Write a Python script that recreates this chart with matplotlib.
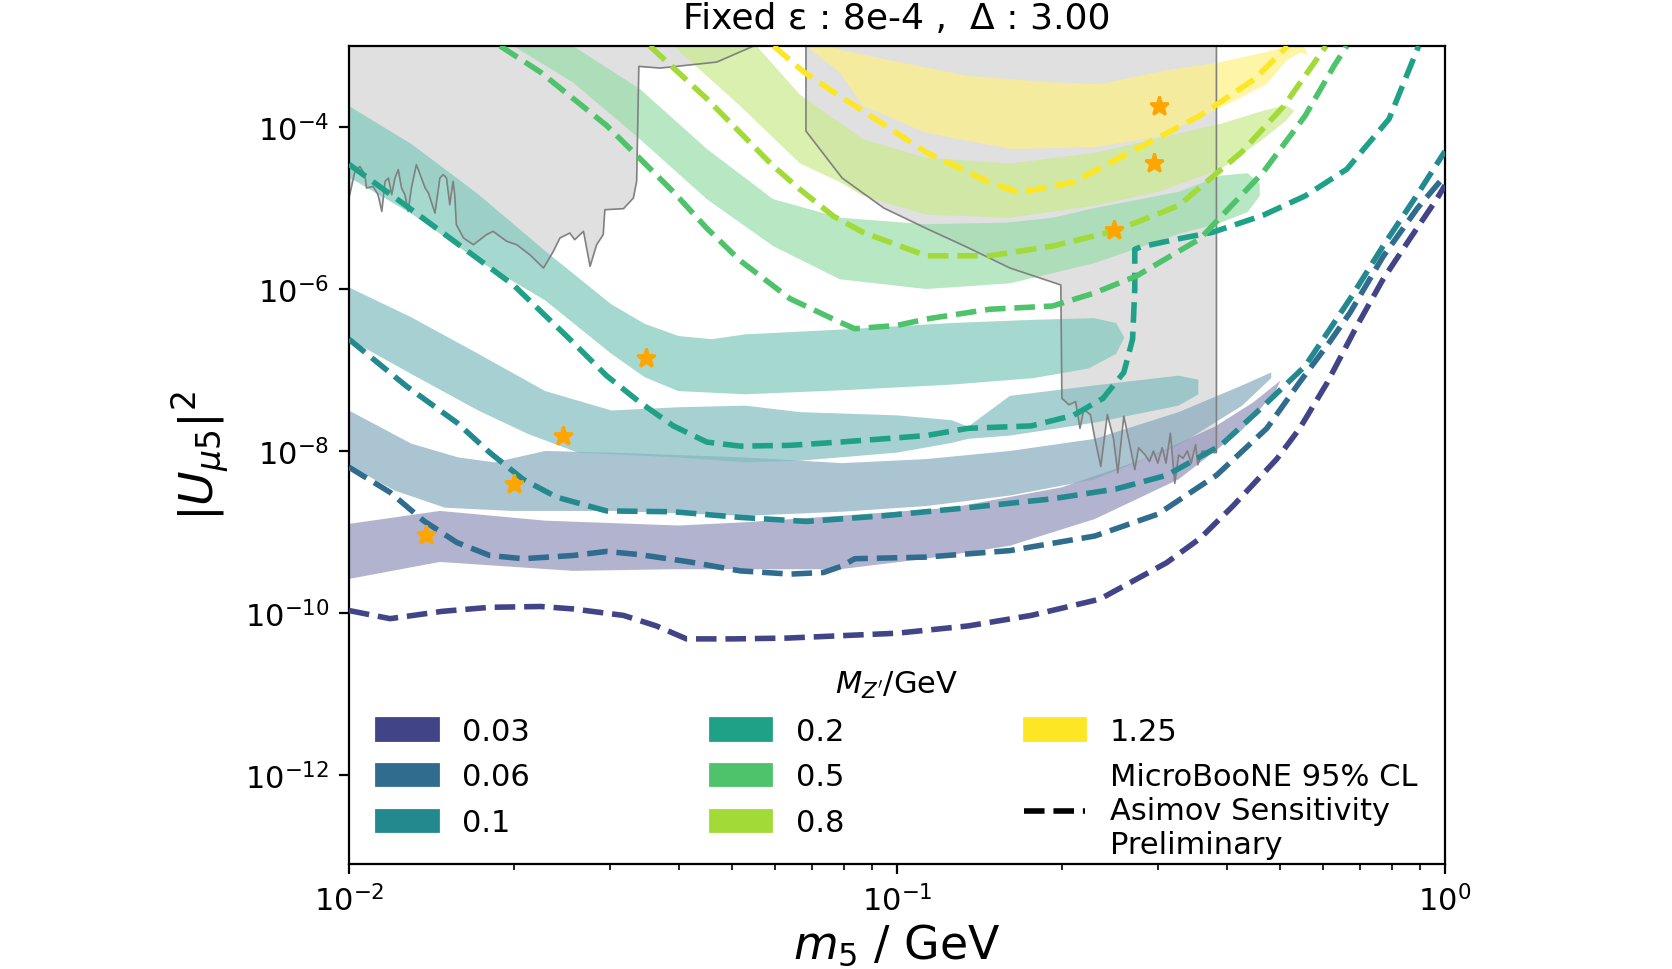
import numpy as np
import matplotlib
matplotlib.use("Agg")
import matplotlib.pyplot as plt
from matplotlib.patches import Patch
from matplotlib.lines import Line2D
from matplotlib.ticker import NullLocator

# ---------------- data (log10 values) ----------------
mass_labels = ["0.03", "0.06", "0.1", "0.2", "0.5", "0.8", "1.25"]
viridis_pos = [0.2, 0.35, 0.47, 0.57, 0.72, 0.86, 1.0]

# dashed sensitivity curves: log10(m5), log10(|U|^2)
d003_x = [-2.0, -1.925, -1.83, -1.743, -1.65, -1.591, -1.499, -1.439, -1.384, -1.3, -1.2, -1.1, -1.0, -0.87,
          -0.755, -0.63, -0.508, -0.447, -0.387, -0.307, -0.265, -0.216, -0.161, -0.113, -0.064, -0.015, 0.0]
d003_y = [-9.97, -10.07, -9.98, -9.93, -9.92, -9.95, -10.03, -10.16, -10.32, -10.32, -10.31, -10.28, -10.25, -10.16,
          -10.03, -9.83, -9.38, -9.08, -8.68, -8.10, -7.72, -7.17, -6.46, -5.88, -5.38, -4.89, -4.72]
d006_x = [-2.0, -1.925, -1.864, -1.803, -1.743, -1.682, -1.591, -1.530, -1.469, -1.378, -1.286, -1.195, -1.134,
          -1.10, -1.077, -0.947, -0.794, -0.639, -0.524, -0.417, -0.325, -0.265, -0.21, -0.173, -0.113, -0.05, 0.0]
d006_y = [-8.20, -8.51, -8.86, -9.13, -9.29, -9.33, -9.29, -9.24, -9.28, -9.37, -9.48, -9.52, -9.50,
          -9.42, -9.33, -9.31, -9.23, -9.05, -8.78, -8.30, -7.72, -7.15, -6.65, -6.29, -5.60, -5.0, -4.6]
d01_x = [-2.0, -1.895, -1.803, -1.743, -1.682, -1.621, -1.530, -1.408, -1.286, -1.165, -1.024, -0.870, -0.716,
         -0.601, -0.508, -0.409, -0.332, -0.255, -0.173, -0.113, -0.052, 0.0]
d01_y = [-6.62, -7.20, -7.65, -8.02, -8.35, -8.57, -8.74, -8.75, -8.82, -8.87, -8.80, -8.70, -8.59,
         -8.47, -8.30, -7.93, -7.45, -6.95, -6.12, -5.47, -4.85, -4.3]
d02_x = [-2.0, -1.9, -1.8, -1.7, -1.6, -1.53, -1.469, -1.408, -1.347, -1.286, -1.195, -1.104, -0.947, -0.870,
         -0.755, -0.678, -0.624, -0.586, -0.570, -0.566, -0.566, -0.555, -0.486, -0.424, -0.332, -0.255, -0.179,
         -0.102, -0.048]
d02_y = [-4.46, -4.95, -5.45, -5.95, -6.6, -7.07, -7.40, -7.69, -7.89, -7.94, -7.93, -7.89, -7.81, -7.72,
         -7.69, -7.56, -7.35, -7.03, -6.62, -6.0, -5.51, -5.48, -5.38, -5.30, -5.09, -4.85, -4.52,
         -3.90, -3.0]
d05_x = [-1.724, -1.651, -1.530, -1.46, -1.408, -1.347, -1.286, -1.195, -1.104, -1.077, -1.0, -0.946, -0.831,
         -0.716, -0.640, -0.563, -0.447, -0.332, -0.255, -0.202, -0.179]
d05_y = [-3.0, -3.32, -3.98, -4.45, -4.80, -5.25, -5.65, -6.12, -6.41, -6.49, -6.45, -6.37, -6.25,
         -6.21, -6.05, -5.84, -5.38, -4.56, -3.86, -3.24, -3.0]
d08_x = [-1.451, -1.347, -1.226, -1.177, -1.116, -1.062, -0.946, -0.831, -0.716, -0.601, -0.486, -0.371,
         -0.294, -0.217]
d08_y = [-3.0, -3.65, -4.48, -4.77, -5.10, -5.30, -5.59, -5.59, -5.47, -5.28, -4.97, -4.31, -3.74, -3.0]
d125_x = [-1.225, -1.17, -1.104, -1.062, -0.947, -0.832, -0.777, -0.678, -0.563, -0.447, -0.348, -0.287]
d125_y = [-3.0, -3.32, -3.62, -3.80, -4.31, -4.68, -4.81, -4.68, -4.27, -3.86, -3.41, -3.0]

# filled bands: upper and lower edges (log10)
b003_up_x = [-2.0, -1.834, -1.642, -1.399, -1.277, -1.104, -0.9, -0.7, -0.55, -0.42, -0.35, -0.30]
b003_up_y = [-8.90, -8.74, -8.86, -8.92, -8.88, -8.80, -8.70, -8.45, -8.10, -7.70, -7.40, -7.13]
b003_lo_x = [-2.0, -1.834, -1.591, -1.408, -1.104, -0.947, -0.794, -0.639, -0.486, -0.370, -0.309]
b003_lo_y = [-9.58, -9.37, -9.48, -9.46, -9.46, -9.33, -9.17, -8.84, -8.35, -7.74, -7.26]

b006_up_x = [-2.0, -1.886, -1.80, -1.734, -1.642, -1.521, -1.277, -1.1, -0.947, -0.794, -0.639, -0.486, -0.370,
             -0.317]
b006_up_y = [-7.50, -7.91, -8.08, -8.14, -8.0, -8.02, -8.08, -8.15, -8.10, -8.0, -7.85, -7.52, -7.19, -7.03]
b006_lo_x = [-2.0, -1.916, -1.825, -1.703, -1.521, -1.277, -1.1, -0.947, -0.794, -0.639, -0.486, -0.370, -0.317]
b006_lo_y = [-8.18, -8.49, -8.70, -8.74, -8.74, -8.80, -8.75, -8.68, -8.55, -8.35, -7.93, -7.44, -7.10]

b01_up_x = [-2.0, -1.886, -1.764, -1.642, -1.521, -1.399, -1.277, -1.177, -1.0, -0.90, -0.87, -0.84, -0.794,
            -0.639, -0.486, -0.45]
b01_up_y = [-5.98, -6.35, -6.80, -7.26, -7.50, -7.46, -7.44, -7.52, -7.56, -7.62, -7.70, -7.55, -7.32,
            -7.19, -7.07, -7.12]
b01_lo_x = [-2.0, -1.886, -1.764, -1.673, -1.582, -1.399, -1.277, -1.177, -1.0, -0.90, -0.87, -0.794, -0.639,
            -0.486, -0.45]
b01_lo_y = [-6.62, -7.05, -7.50, -7.79, -8.02, -8.08, -8.14, -8.12, -8.02, -7.90, -7.85, -7.81, -7.65,
            -7.44, -7.30]

b02_up_x = [-2.0, -1.886, -1.764, -1.642, -1.521, -1.460, -1.399, -1.338, -1.277, -1.1, -0.9, -0.75, -0.64,
            -0.60, -0.585]
b02_up_y = [-3.74, -4.21, -4.83, -5.53, -6.19, -6.43, -6.58, -6.62, -6.56, -6.50, -6.42, -6.38, -6.36,
            -6.42, -6.6]
b02_lo_x = [-2.0, -1.886, -1.764, -1.642, -1.521, -1.460, -1.399, -1.277, -1.1, -0.9, -0.75, -0.65, -0.60]
b02_lo_y = [-4.62, -5.07, -5.65, -6.14, -6.80, -7.09, -7.26, -7.30, -7.25, -7.18, -7.10, -6.98, -6.80]

b05_up_x = [-1.62, -1.591, -1.469, -1.347, -1.226, -1.104, -0.947, -0.800, -0.716, -0.639, -0.486, -0.409,
            -0.36, -0.338]
b05_up_y = [-2.8, -3.0, -3.53, -4.27, -4.89, -5.12, -5.20, -5.18, -5.12, -5.0, -4.80, -4.60, -4.57, -4.70]
b05_lo_x = [-1.73, -1.700, -1.591, -1.469, -1.347, -1.226, -1.104, -0.947, -0.794, -0.639, -0.486, -0.409,
            -0.36, -0.338]
b05_lo_y = [-2.8, -3.0, -3.45, -4.15, -4.89, -5.47, -5.88, -6.0, -5.93, -5.68, -5.32, -5.18, -5.05, -4.85]

b08_up_x = [-1.29, -1.256, -1.177, -1.104, -1.062, -0.947, -0.793, -0.639, -0.524, -0.409, -0.332, -0.29,
            -0.275]
b08_up_y = [-2.8, -3.0, -3.6, -3.95, -4.15, -4.38, -4.45, -4.32, -4.14, -3.96, -3.80, -3.73, -3.80]
b08_lo_x = [-1.44, -1.408, -1.286, -1.177, -1.104, -1.062, -0.947, -0.793, -0.639, -0.524, -0.409, -0.332,
            -0.29]
b08_lo_y = [-2.8, -3.0, -3.74, -4.45, -4.68, -4.85, -5.08, -5.12, -4.97, -4.80, -4.52, -4.15, -3.92]

b125_up_x = [-1.20, -1.10, -1.024, -0.870, -0.716, -0.63, -0.508, -0.41, -0.33, -0.27, -0.255, -0.25]
b125_up_y = [-2.85, -3.05, -3.16, -3.37, -3.45, -3.47, -3.30, -3.20, -3.08, -2.97, -3.03, -3.12]
b125_lo_x = [-1.20, -1.165, -1.104, -1.062, -0.947, -0.793, -0.639, -0.524, -0.409, -0.325, -0.288, -0.262]
b125_lo_y = [-2.85, -3.0, -3.33, -3.74, -4.07, -4.27, -4.25, -4.12, -3.76, -3.47, -3.17, -3.08]

# existing limits (gray regions): boundary lines, log10
gray_left_x = [-2.0, -1.989, -1.980, -1.971, -1.968, -1.956, -1.947, -1.940, -1.934, -1.928, -1.922, -1.916,
               -1.910, -1.904, -1.898, -1.892, -1.886, -1.877, -1.870, -1.861, -1.855, -1.843, -1.834, -1.828,
               -1.822, -1.816, -1.810, -1.807, -1.804, -1.791, -1.773, -1.749, -1.737, -1.712, -1.694, -1.670,
               -1.645, -1.627, -1.615, -1.597, -1.588, -1.572, -1.560, -1.548, -1.536, -1.533, -1.499, -1.481,
               -1.475, -1.471, -1.432, -1.329, -1.256]
gray_left_y = [-4.877, -4.547, -4.486, -4.588, -4.753, -4.733, -4.835, -5.041, -4.671, -4.630, -4.835, -4.630,
               -4.527, -4.753, -4.835, -5.041, -4.753, -4.465, -4.588, -4.753, -4.815, -5.062, -4.630, -4.588,
               -4.630, -4.959, -4.671, -4.835, -5.206, -5.370, -5.453, -5.329, -5.288, -5.411, -5.453, -5.576,
               -5.741, -5.535, -5.370, -5.309, -5.391, -5.288, -5.720, -5.453, -5.329, -5.021, -5.008, -4.877,
               -4.671, -3.251, -3.272, -3.198, -2.984]
gray_right_x = [-1.166, -1.166, -1.100, -1.024, -0.947, -0.870, -0.794, -0.701, -0.699, -0.686, -0.674, -0.666,
                -0.659, -0.647, -0.639, -0.628, -0.616, -0.605, -0.597, -0.586, -0.574, -0.566, -0.559, -0.547,
                -0.539, -0.532, -0.524, -0.516, -0.509, -0.501, -0.493, -0.486, -0.478, -0.470, -0.463, -0.455,
                -0.451, -0.443, -0.420, -0.417, -0.417]
gray_right_y = [-3.0, -4.05, -4.63, -5.0, -5.25, -5.49, -5.74, -5.95, -7.35, -7.43, -7.39, -7.72,
                -7.49, -7.55, -7.84, -8.19, -7.55, -7.84, -8.27, -7.57, -7.96, -8.23, -7.96, -8.05,
                -8.13, -8.00, -8.15, -7.96, -8.15, -7.78, -8.40, -8.05, -8.09, -8.00, -8.15, -7.92,
                -8.17, -8.00, -8.02, -8.02, -3.0]

# benchmark points
star_m5 = [0.301, 0.294, 0.249, 0.0349, 0.0246, 0.0200, 0.0138]
star_U2 = [1.8e-4, 3.6e-5, 5.4e-6, 1.4e-7, 1.55e-8, 3.9e-9, 9.1e-10]

title_text = "Fixed ε : 8e-4 ,  Δ : 3.00"
legend_line_label = "MicroBooNE 95% CL\nAsimov Sensitivity\nPreliminary"

# ---------------- drawing ----------------
colors = [np.array(plt.cm.viridis(p)[:3]) for p in viridis_pos]
band_alpha = 0.7
band_colors = [1.0 - (0.4 / band_alpha) * (1.0 - c) for c in colors]

bands = [(b003_up_x, b003_up_y, b003_lo_x, b003_lo_y),
         (b006_up_x, b006_up_y, b006_lo_x, b006_lo_y),
         (b01_up_x, b01_up_y, b01_lo_x, b01_lo_y),
         (b02_up_x, b02_up_y, b02_lo_x, b02_lo_y),
         (b05_up_x, b05_up_y, b05_lo_x, b05_lo_y),
         (b08_up_x, b08_up_y, b08_lo_x, b08_lo_y),
         (b125_up_x, b125_up_y, b125_lo_x, b125_lo_y)]
dashed = [(d003_x, d003_y), (d006_x, d006_y), (d01_x, d01_y), (d02_x, d02_y),
          (d05_x, d05_y), (d08_x, d08_y), (d125_x, d125_y)]

fig = plt.figure(figsize=(8.36, 4.85), dpi=200)
ax = fig.add_axes([0.2087, 0.1082, 0.6555, 0.8433])
ax.set_xscale("log")
ax.set_yscale("log")

top = -2.5
for gx, gy in ((gray_left_x, gray_left_y), (gray_right_x, gray_right_y)):
    gx = np.array(gx)
    gy = np.array(gy)
    ax.fill(10 ** np.concatenate([gx, [gx[-1], gx[0]]]),
            10 ** np.concatenate([gy, [top, top]]), color="#e0e0e0", lw=0, zorder=0)
    ax.plot(10 ** gx, 10 ** gy, color="gray", lw=0.6, zorder=2.5)

for (ux, uy, lx, ly), c in zip(bands, band_colors):
    px = np.concatenate([ux, lx[::-1]])
    py = np.concatenate([uy, ly[::-1]])
    ax.fill(10 ** px, 10 ** py, color=c, alpha=band_alpha, lw=0, zorder=1)

for (dx, dy), c in zip(dashed, colors):
    ax.plot(10 ** np.array(dx), 10 ** np.array(dy), ls="--", color=c, lw=2, zorder=3)

ax.plot(star_m5, star_U2, ls="none", marker="*", color="orange", ms=7, zorder=4)

ax.set_xlim(1e-2, 1.0)
ax.set_ylim(10 ** -13.1, 10 ** -3.0)
ax.set_yticks([1e-12, 1e-10, 1e-8, 1e-6, 1e-4])
ax.yaxis.set_minor_locator(NullLocator())
ax.tick_params(labelsize=11)

ax.set_title(title_text, fontsize=13, pad=6.5)
ax.set_xlabel(r"$m_5$ / GeV", fontsize=16.5, labelpad=2)
ax.set_ylabel(r"$|U_{\mu5}|^2$", fontsize=17, labelpad=5)

handles = [Patch(facecolor=c, edgecolor=c) for c in colors]
handles.append(Line2D([], [], color="black", ls="--", lw=2))
labels = mass_labels + [legend_line_label]
ax.legend(handles, labels, ncol=3, mode="expand", loc="lower left", bbox_to_anchor=(0, -0.027, 1, 0.3),
          frameon=False, title=r"$M_{Z'}$/GeV", handlelength=2.0, fontsize=11, title_fontsize=11,
          labelspacing=0.55)

fig.savefig("out.png", dpi=200)
